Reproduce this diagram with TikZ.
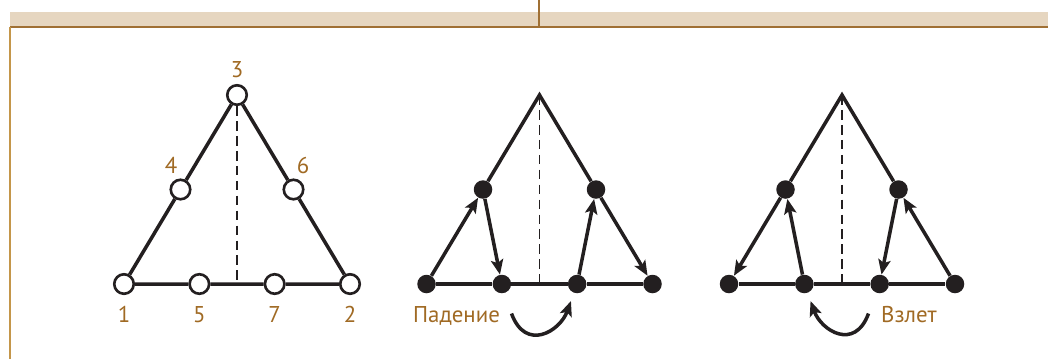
\documentclass[tikz,border=0pt]{standalone}
\usepackage{fontspec}
\setmainfont{PT Sans}
\usepackage{xcolor}
\usepackage{tikz}
\usetikzlibrary{arrows.meta}

\definecolor{ink}{RGB}{35,31,32}
\definecolor{ochre}{RGB}{160,106,36}
\definecolor{bandfill}{RGB}{230,214,192}
\definecolor{bandrule}{RGB}{160,112,52}
\definecolor{marginrule}{RGB}{196,150,74}

\begin{document}
\begin{tikzpicture}[
  x=1cm,y=1cm,>={Stealth[length=8.5pt,width=7pt,inset=1.8pt]},
  hollow/.style={circle,draw=ink,fill=white,line width=1.5pt,
    minimum size=0.39cm,inner sep=0},
  dot/.style={circle,fill=ink,minimum size=0.37cm,inner sep=0},
  edge/.style={draw=ink,line width=2pt},
  move/.style={edge,->},
  axis/.style={draw=ink,line width=0.9pt,dash pattern=on 5.5pt off 3pt},
  swing/.style={edge,->,looseness=1.6},
  num/.style={text=ochre,inner sep=0,font=\fontsize{13}{15}\selectfont},
  word/.style={num,anchor=base}
]
\useasboundingbox (0,0) rectangle (20.96,-7.18);

% header band
\fill[bandfill] (0.2,-0.24) rectangle (20.96,-0.54);
\draw[bandrule,line width=1pt] (0.2,-0.54) -- (20.96,-0.54);
\draw[bandrule,line width=0.6pt] (10.78,0) -- (10.78,-0.54);
\draw[marginrule,line width=0.7pt] (0.2,-0.54) -- (0.2,-7.18);

% numbered triangle
\node[hollow] (a1) at (2.48,-5.68) {};
\node[hollow] (a2) at (7.00,-5.68) {};
\node[hollow] (a3) at (4.74,-1.90) {};
\node[hollow] (a4) at (3.61,-3.79) {};
\node[hollow] (a5) at (3.987,-5.68) {};
\node[hollow] (a6) at (5.87,-3.79) {};
\node[hollow] (a7) at (5.493,-5.68) {};
\coordinate (a0) at (4.74,-5.68);
\draw[edge] (a1) -- (a4) -- (a3) -- (a6) -- (a2) -- (a7) -- (a5) -- (a1);
\draw[axis] (a3) -- (a0);

\node[num] (n3) at ([yshift=0.5cm]a3) {3};
\node[num] (n4) at ([xshift=-0.19cm,yshift=0.49cm]a4) {4};
\node[num] (n6) at ([xshift=0.19cm,yshift=0.49cm]a6) {6};
\foreach \i in {1,5,7,2}
  \node[num] (n\i) at ([yshift=-0.61cm]a\i) {\i};

% the two move triangles
\foreach \t/\x in {b/8.53,c/14.58}{
  \node[dot] (\t1) at (\x,-5.68) {};
  \node[dot] (\t2) at (\x+4.52,-5.68) {};
  \node[dot] (\t4) at (\x+1.13,-3.79) {};
  \node[dot] (\t5) at (\x+1.507,-5.68) {};
  \node[dot] (\t6) at (\x+3.39,-3.79) {};
  \node[dot] (\t7) at (\x+3.013,-5.68) {};
  \coordinate (\t3) at (\x+2.26,-1.90);
  \coordinate (\t0) at (\x+2.26,-5.68);
  \draw[edge] (\t4) -- (\t3) -- (\t6);
  \draw[edge] (\t1) -- (\t5) -- (\t7) -- (\t2);
  \draw[axis] (\t3) -- (\t0);
}

\draw[move] (b1) -- (b4);
\draw[move] (b4) -- (b5);
\draw[move] (b7) -- (b6);
\draw[move] (b6) -- (b2);

\draw[move] (c4) -- (c1);
\draw[move] (c5) -- (c4);
\draw[move] (c6) -- (c7);
\draw[move] (c2) -- (c6);

\node[word] (fallname) at (9.13,-6.454) {Падение};
\coordinate (fall) at (10.23,-6.27);
\draw[swing,shorten >=0.17cm] (fall) to[out=-70,in=-110] (b7);

\node[word] (risename) at (18.18,-6.454) {Взлет};
\coordinate (rise) at (17.37,-6.27);
\draw[swing,shorten >=0.17cm] (rise) to[out=-110,in=-70] (c5);
\end{tikzpicture}
\end{document}
